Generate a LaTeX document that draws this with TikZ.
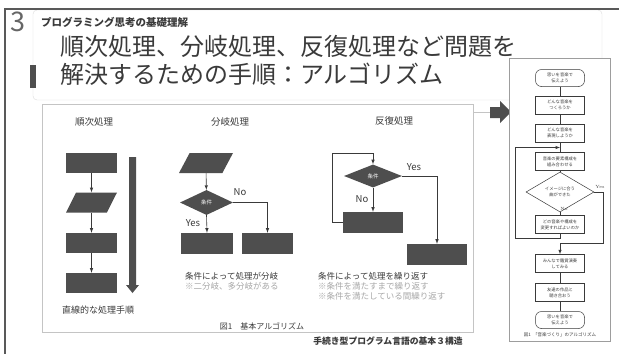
\documentclass[tikz,border=0pt]{standalone}
\usepackage{fontspec}
\newfontfamily\jp{Noto Sans CJK JP}
\usetikzlibrary{shapes.geometric}
\tikzset{>=latex}

\definecolor{boxgray}{HTML}{4E4E4E}
\definecolor{inkgray}{HTML}{3A3A3A}
\definecolor{softgray}{HTML}{A8A8A8}
\definecolor{framegray}{HTML}{C4C4C4}
\newcommand{\fsz}[2]{\fontsize{#1}{#2}\selectfont}

\tikzset{
    blk/.style={fill=boxgray, minimum width=51, minimum height=20, inner sep=0},
    para/.style={trapezium, trapezium left angle=72, trapezium right angle=108,
        trapezium stretches=true, fill=boxgray, minimum width=51, minimum height=20, inner sep=1pt},
    cond/.style={diamond, fill=boxgray, text=white, inner sep=0, minimum width=53,
        minimum height=25, font=\jp\fsz{5.5}{6}},
    conn/.style={draw=inkgray, line width=0.6pt},
    lbl/.style={text=inkgray, inner sep=0, font=\jp\fsz{9.5}{11}},
    yn/.style={text=inkgray, inner sep=0, font=\jp\fsz{9.5}{11}},
    fbox/.style={draw=inkgray, line width=0.5pt, minimum width=49, minimum height=18,
        inner sep=0, align=center, text=inkgray, font=\jp\fsz{4.3}{6}},
    fterm/.style={fbox, rounded corners=6, minimum height=17},
    fconn/.style={draw=inkgray, line width=0.5pt},
}

\begin{document}
\begin{tikzpicture}[x=1pt, y=-1pt]

    \fill[white] (0,0) rectangle (619,354);
    \useasboundingbox (0,0) rectangle (619,354);

    % slide frame and title
    \draw[framegray!60, rounded corners=4] (33,10) rectangle (602,100);
    \draw[gray!70!black, line width=1.2pt] (619,9) -- (5,9) -- (5,354);
    \fill[boxgray] (30,65) rectangle (36,88);

    \node[text=gray!80!black, inner sep=0, font=\jp\fsz{27}{27}] (num) at (18,22) {3};
    \node[anchor=west, text=inkgray, inner sep=0, font=\jp\bfseries\fsz{10.5}{11}] (sub) at (41,22) {プログラミング思考の基礎理解};
    \node[anchor=west, text=inkgray, inner sep=0, font=\jp\fsz{24}{26}] (ttl1) at (60,46) {順次処理、分岐処理、反復処理など問題を};
    \node[anchor=west, text=inkgray, inner sep=0, font=\jp\fsz{24}{26}] (ttl2) at (60,74) {解決するための手順：アルゴリズム};

    % main figure
    \draw[framegray, fill=white, line width=0.8pt] (42,104) rectangle (473,332);
    \draw[framegray, line width=0.8pt] (473,112) -- (490,112);
    \fill[boxgray] (490,107) -- (500,107) -- (500,101) -- (511,112) -- (500,123) -- (500,118) -- (490,118) -- cycle;

    \node[lbl] (hseq) at (94,122) {順次処理};
    \node[lbl] (hbr) at (230,122) {分岐処理};
    \node[lbl] (hlp) at (394,121) {反復処理};

    % sequence
    \node[blk] (s1) at (91.5,163) {};
    \node[para] (s2) at (91.5,202.5) {};
    \node[blk] (s3) at (91.5,243) {};
    \node[blk] (s4) at (91.5,283) {};
    \foreach \a/\b in {s1/s2, s2/s3, s3/s4}
        \draw[conn,->] (\a) -- (\b);
    \fill[boxgray] (129,157) -- (136,157) -- (136,285) -- (139,285) -- (132.5,293) -- (126,285) -- (129,285) -- cycle;
    \node[lbl, font=\jp\fsz{9}{10}] (seqtxt) at (98,310) {直線的な処理手順};

    % branch
    \node[para, minimum width=54] (b1) at (206,163) {};
    \node[cond] (b2) at (206.5,202.5) {条件};
    \node[blk, minimum width=52, minimum height=21] (b3) at (207,243.5) {};
    \node[blk, minimum height=21] (b4) at (267.5,243.5) {};
    \draw[conn,->] (b1) -- (b2);
    \draw[conn,->] (b2.south) -- (b3.north);
    \draw[conn,->] (b2.east) -| (b4.north);
    \node[yn] (bno) at (240,192) {No};
    \node[yn] (byes) at (193,223) {Yes};
    \node[anchor=west, text=inkgray, inner sep=0, font=\jp\fsz{8.5}{9}] (brt1) at (185,276) {条件によって処理が分岐};
    \node[anchor=west, text=softgray, inner sep=0, font=\jp\fsz{8.5}{9}] (brt2) at (185,286) {※二分岐、多分岐がある};

    % loop
    \node[cond, minimum width=58, minimum height=23] (l1) at (373,176) {条件};
    \node[blk, minimum width=60, minimum height=21] (l2) at (373,222.5) {};
    \node[blk, minimum width=60, minimum height=21] (l3) at (437,254.5) {};
    \coordinate (ltop) at (373,153);
    \draw[conn,->] (l1.south) -- (l2.north);
    \draw[conn,->] (l2.west) -- ++(-11,0) |- (ltop) -- (l1.north);
    \draw[conn,->] (l1.east) -| (l3.north);
    \node[yn] (lyes) at (414,167) {Yes};
    \node[yn] (lno) at (362,199) {No};
    \node[anchor=west, text=inkgray, inner sep=0, font=\jp\fsz{8.5}{9}] (lpt1) at (318,276) {条件によって処理を繰り返す};
    \node[anchor=west, text=softgray, inner sep=0, font=\jp\fsz{8.5}{9}] (lpt2) at (318,286) {※条件を満たすまで繰り返す};
    \node[anchor=west, text=softgray, inner sep=0, font=\jp\fsz{8.5}{9}] (lpt3) at (318,296) {※条件を満たしている間繰り返す};

    \node[text=inkgray, inner sep=0, font=\jp\fsz{8}{9}] (fig1) at (262,326) {図1\quad 基本アルゴリズム};
    \node[text=inkgray, inner sep=0, font=\jp\bfseries\fsz{8.8}{9}] (cap) at (388,341) {手続き型プログラム言語の基本３構造};

    % music flowchart
    \draw[framegray!80!black, fill=white, line width=0.6pt] (509,58) rectangle (610,341);
    \node[fterm] (f1) at (560,78) {思いを音楽で\\伝えよう};
    \node[fbox] (f2) at (560,105) {どんな音楽を\\つくろうか};
    \node[fbox] (f3) at (560,133) {どんな音楽を\\表現しようか};
    \node[fbox] (f4) at (560,161.5) {音楽の要素構成を\\組み合わせる};
    \node[diamond, draw=inkgray, line width=0.5pt, inner sep=0, minimum width=68, minimum height=28,
        align=center, text=inkgray, font=\jp\fsz{4.3}{6}] (f5) at (560,192) {イメージに合う\\曲ができた};
    \node[fbox] (f6) at (560,224.5) {どの音楽や構成を\\変更すればよいのか};
    \node[fbox] (f7) at (560,263.5) {みんなで鑑賞演奏\\してみる};
    \node[fbox] (f8) at (560,292.5) {友達の作品と\\聴き合おう};
    \node[fterm] (f9) at (560,320) {思いを音楽で\\伝えよう};
    \foreach \a/\b in {f1/f2, f2/f3, f3/f4, f4/f5, f5/f6, f7/f8, f8/f9}
        \draw[fconn] (\a) -- (\b);
    \coordinate (fbl) at (515,238);
    \coordinate (fin) at (560,147.5);
    \coordinate (fbr) at (603,243);
    \draw[fconn,->] (f6.south) |- (fbl) |- (fin);
    \draw[fconn,->] (f5.east) -| (fbr) -| (f7.north);
    \node[text=inkgray, inner sep=0, font=\fsz{4.5}{5}] (fyes) at (600,187) {Yes};
    \node[text=inkgray, inner sep=0, font=\fsz{4.5}{5}] (fno) at (564,208.5) {No};
    \node[text=inkgray, inner sep=0, font=\jp\fsz{4.5}{5}] (fcap) at (560,335) {図1\enspace「音楽づくり」のアルゴリズム};

\end{tikzpicture}
\end{document}
